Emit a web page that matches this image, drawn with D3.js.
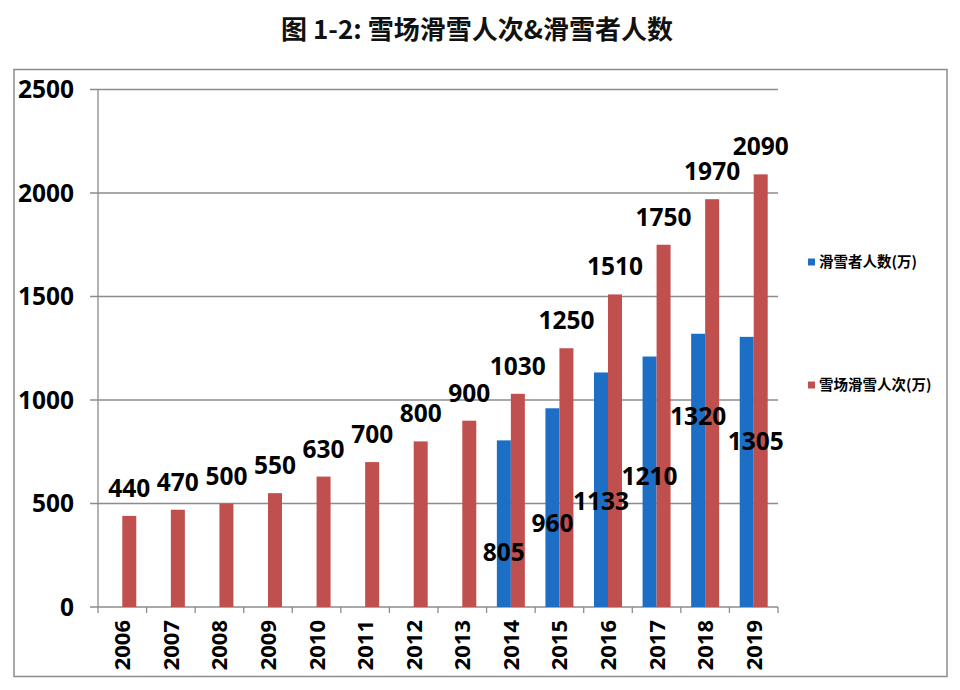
<!DOCTYPE html>
<html><head><meta charset="utf-8">
<script src="https://cdn.jsdelivr.net/npm/d3@7"></script>
<style>
body{margin:0;background:#fff;}
svg{display:block;}
</style></head>
<body><svg id="c" width="960" height="690"></svg>
<script>
const years = ["2006","2007","2008","2009","2010","2011","2012","2013","2014","2015","2016","2017","2018","2019"];
const skiers = [null,null,null,null,null,null,null,null,805,960,1133,1210,1320,1305];
const visits = [440,470,500,550,630,700,800,900,1030,1250,1510,1750,1970,2090];
const yTicks = [0,500,1000,1500,2000,2500];
const seriesNames = ["滑雪者人数(万)","雪场滑雪人次(万)"];
const title = "图 1-2:  雪场滑雪人次&滑雪者人数";
// manual label anchors (value units) for the blue series labels, as placed in the original
const skierLabelAt = [null,null,null,null,null,null,null,null,220,364,467,588,881,757];
const skierLabelDx = [0,0,0,0,0,0,0,0,0,0,0,0,0,9];

const colors = ["#1c6fc4","#c0504d"];
const num = "'Open Sans','Noto Sans',sans-serif";
const cjk = "'Noto Sans CJK SC',sans-serif";
const svg = d3.select("#c");

// frame
svg.append("rect").attr("x",14).attr("y",69.5).attr("width",933).attr("height",607)
  .attr("fill","none").attr("stroke","#8c8c8c").attr("stroke-width",1.5);

svg.append("text").attr("x",477).attr("y",39).attr("text-anchor","middle")
  .attr("font-family",cjk).attr("font-weight",700).attr("font-size",26).attr("fill","#111")
  .text(title);

const x = d3.scaleBand().domain(years).range([98,778]).padding(0);
const y = d3.scaleLinear().domain([0,2500]).range([607,89.5]);
const inner = d3.scaleBand().domain([0,1]).range([0,x.bandwidth()]).paddingInner(0).paddingOuter(0.735);

// gridlines + y ticks
svg.append("g").selectAll("line").data(yTicks).join("line")
  .attr("x1",90).attr("x2",778).attr("y1",d=>y(d)).attr("y2",d=>y(d))
  .attr("stroke","#8c8c8c").attr("stroke-width",1.3);
svg.append("line").attr("x1",98).attr("x2",98).attr("y1",y(2500)).attr("y2",y(0))
  .attr("stroke","#8c8c8c").attr("stroke-width",1.3);
svg.append("g").selectAll("text").data(yTicks).join("text")
  .attr("x",74).attr("y",d=>y(d)+8.5).attr("text-anchor","end")
  .attr("font-family",num).attr("font-weight",700).attr("font-size",24.5).attr("fill","#000")
  .text(d=>d);

// x ticks
const bounds = years.map(d=>x(d)).concat([x.range()[1]]);
svg.append("g").selectAll("line").data(bounds).join("line")
  .attr("x1",d=>d).attr("x2",d=>d).attr("y1",607).attr("y2",613)
  .attr("stroke","#8c8c8c").attr("stroke-width",1.3);
svg.append("g").selectAll("text").data(years).join("text")
  .attr("transform",d=>`translate(${x(d)+x.bandwidth()/2+8},620) rotate(-90)`)
  .attr("text-anchor","end")
  .attr("font-family",num).attr("font-weight",700).attr("font-size",22).attr("fill","#000")
  .text(d=>d);

// bars
const series = [skiers, visits];
series.forEach((vals,si)=>{
  svg.append("g").selectAll("rect").data(years.map((yr,i)=>({yr,v:vals[i]})).filter(d=>d.v!=null)).join("rect")
    .attr("x",d=>x(d.yr)+inner(si)).attr("width",inner.bandwidth())
    .attr("y",d=>y(d.v)).attr("height",d=>y(0)-y(d.v))
    .attr("fill",colors[si]);
});

// labels for visits
svg.append("g").selectAll("text").data(years.map((yr,i)=>({yr,v:visits[i]}))).join("text")
  .attr("x",d=>x(d.yr)+inner(1)+inner.bandwidth()/2).attr("y",d=>y(d.v)-19)
  .attr("text-anchor","middle")
  .attr("font-family",num).attr("font-weight",700).attr("font-size",24.5).attr("fill","#000")
  .text(d=>d.v);
// labels for skiers
svg.append("g").selectAll("text").data(years.map((yr,i)=>({yr,v:skiers[i],at:skierLabelAt[i],dx:skierLabelDx[i]})).filter(d=>d.v!=null)).join("text")
  .attr("x",d=>x(d.yr)+inner(0)+inner.bandwidth()/2+d.dx).attr("y",d=>y(d.at))
  .attr("text-anchor","middle")
  .attr("font-family",num).attr("font-weight",700).attr("font-size",24.5).attr("fill","#000")
  .text(d=>d.v);

// legend
const legY = [262,385];
seriesNames.forEach((n,i)=>{
  svg.append("rect").attr("x",808).attr("y",legY[i]-3.5).attr("width",7).attr("height",7).attr("fill",colors[i]);
  svg.append("text").attr("x",819).attr("y",legY[i]+5).attr("font-family",cjk).attr("font-weight",700)
    .attr("font-size",14.5).attr("fill","#000").text(n);
});
</script></body></html>
